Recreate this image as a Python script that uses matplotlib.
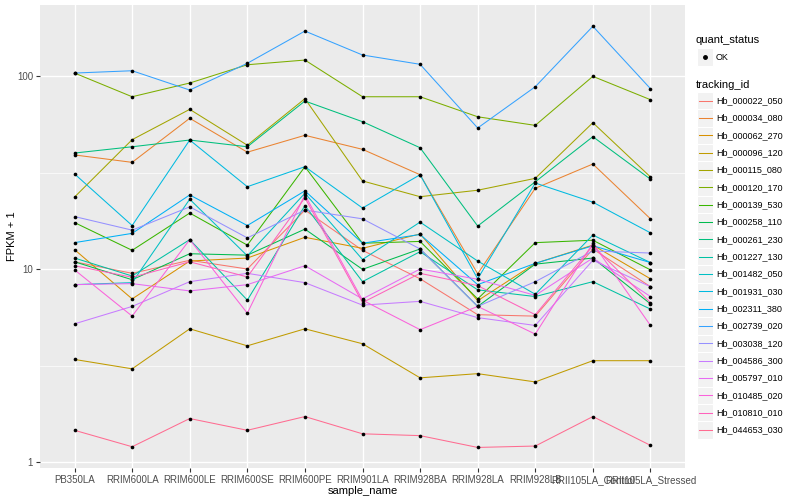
import numpy as np
import matplotlib.pyplot as plt
from matplotlib.lines import Line2D
from matplotlib.patches import Rectangle

plt.rcParams['font.family'] = ['Liberation Sans', 'DejaVu Sans']

samples = ['PB350LA', 'RRIM600LA', 'RRIM600LE', 'RRIM600SE', 'RRIM600PE',
           'RRIM901LA', 'RRIM928BA', 'RRIM928LA', 'RRIM928LB',
           'RRII105LA_Control', 'RRII105LA_Stressed']

tracking_ids = ['Hb_000022_050', 'Hb_000034_080', 'Hb_000062_270', 'Hb_000096_120',
                'Hb_000115_080', 'Hb_000120_170', 'Hb_000139_530', 'Hb_000258_110',
                'Hb_000261_230', 'Hb_001227_130', 'Hb_001482_050', 'Hb_001931_030',
                'Hb_002311_380', 'Hb_002739_020', 'Hb_003038_120', 'Hb_004586_300',
                'Hb_005797_010', 'Hb_010485_020', 'Hb_010810_010', 'Hb_044653_030']

# ggplot hue palette, 20 levels
colors = ['#F8766D', '#EA8331', '#D89000', '#C09B00', '#A3A500', '#7CAE00', '#39B600',
          '#00BB4E', '#00BF7D', '#00C1A3', '#00BFC4', '#00BAE0', '#00B0F6', '#35A2FF',
          '#9590FF', '#C77CFF', '#E76BF3', '#FA62DB', '#FF62BC', '#FF6C91']

# FPKM + 1, one list per tracking id (order = samples)
hb_000022_050 = [10.9, 9.5, 11.1, 10.0, 20.2, 12.5, 8.9, 5.8, 5.7, 12.7, 8.1]
hb_000034_080 = [39.0, 35.7, 60.4, 40.3, 49.3, 41.7, 30.8, 9.45, 26.2, 35.0, 18.2]
hb_000062_270 = [12.6, 7.0, 11.0, 11.4, 14.6, 12.8, 15.2, 6.85, 10.7, 13.3, 8.9]
hb_000096_120 = [3.4, 3.04, 4.9, 4.0, 4.9, 4.1, 2.73, 2.87, 2.6, 3.35, 3.35]
hb_000115_080 = [23.6, 46.8, 67.2, 43.8, 76.3, 28.6, 23.7, 25.6, 29.5, 57.3, 30.0]
hb_000120_170 = [103.6, 78.1, 92.0, 114.4, 121.0, 78.1, 78.1, 61.5, 55.5, 99.6, 75.4]
hb_000139_530 = [17.4, 12.5, 19.5, 13.3, 33.9, 13.6, 13.9, 7.0, 13.7, 14.1, 9.9]
hb_000258_110 = [10.9, 8.8, 12.0, 11.8, 16.1, 9.96, 12.7, 6.4, 10.6, 11.4, 6.6]
hb_000261_230 = [39.9, 43.0, 46.6, 43.0, 74.2, 58.0, 42.5, 16.7, 28.3, 48.5, 29.2]
hb_001227_130 = [11.4, 9.2, 14.2, 6.9, 21.3, 8.6, 12.3, 7.8, 7.2, 8.6, 6.2]
hb_001482_050 = [8.3, 8.5, 23.0, 11.7, 24.7, 11.2, 17.5, 11.0, 7.4, 15.0, 10.8]
hb_001931_030 = [31.1, 16.8, 46.6, 26.7, 33.9, 20.7, 30.8, 8.9, 27.9, 22.2, 15.4]
hb_002311_380 = [13.7, 15.3, 24.2, 16.8, 25.4, 13.6, 15.1, 8.3, 10.7, 13.2, 10.8]
hb_002739_020 = [103.6, 106.5, 84.6, 116.4, 171.0, 128.5, 115.0, 53.8, 88.0, 181.0, 86.0]
hb_003038_120 = [18.7, 15.9, 21.0, 14.5, 20.2, 18.2, 12.7, 6.4, 8.6, 12.4, 12.1]
hb_004586_300 = [5.2, 6.4, 8.6, 9.5, 8.5, 6.5, 6.8, 5.6, 5.1, 11.1, 8.1]
hb_005797_010 = [8.3, 8.4, 7.7, 8.3, 10.4, 7.0, 10.0, 8.85, 7.3, 11.4, 7.2]
hb_010485_020 = [9.9, 5.7, 14.2, 5.9, 24.2, 6.9, 4.85, 6.4, 4.6, 13.6, 5.1]
hb_010810_010 = [10.4, 9.06, 10.9, 9.1, 23.4, 6.7, 9.5, 8.2, 5.8, 13.2, 6.7]
hb_044653_030 = [1.46, 1.20, 1.68, 1.46, 1.72, 1.40, 1.37, 1.19, 1.21, 1.72, 1.22]

series = [hb_000022_050, hb_000034_080, hb_000062_270, hb_000096_120, hb_000115_080,
          hb_000120_170, hb_000139_530, hb_000258_110, hb_000261_230, hb_001227_130,
          hb_001482_050, hb_001931_030, hb_002311_380, hb_002739_020, hb_003038_120,
          hb_004586_300, hb_005797_010, hb_010485_020, hb_010810_010, hb_044653_030]

W, H = 800, 500
fig = plt.figure(figsize=(W / 100, H / 100), dpi=100)
ax = fig.add_axes([40 / W, 1 - 468 / H, 645 / W, 463 / H])
ax.set_facecolor('#EBEBEB')
for s in ax.spines.values():
    s.set_visible(False)

x = np.arange(len(samples))
for vals, c in zip(series, colors):
    ax.plot(x, vals, color=c, lw=0.75, zorder=2)
for vals in series:
    ax.scatter(x, vals, color='black', s=7, zorder=3, linewidths=0)

ax.set_yscale('log')
ax.set_ylim(10 ** -0.031, 10 ** 2.368)
ax.set_xlim(-0.6, len(samples) - 0.4)
ax.set_yticks([1, 10, 100])
ax.set_yticklabels(['1', '10', '100'])
ax.set_yticks([10 ** 0.5, 10 ** 1.5], minor=True)
ax.yaxis.set_minor_formatter(plt.NullFormatter())
ax.set_xticks(x)
ax.set_xticklabels(samples)
ax.grid(which='major', color='white', lw=1.0, zorder=0)
ax.grid(which='minor', axis='y', color='white', lw=0.5, zorder=0)
ax.set_axisbelow(True)
ax.tick_params(which='major', length=3, width=0.8, color='#333333',
               labelsize=7, labelcolor='#4D4D4D', pad=2)
ax.tick_params(which='minor', length=0)
ax.set_xlabel('sample_name', fontsize=8, labelpad=0.5)
ax.set_ylabel('FPKM + 1', fontsize=8, labelpad=0)


def fx(px):
    return px / W


def fy(py):
    return 1 - py / H


# legend: quant_status
fig.text(fx(696), fy(40), 'quant_status', fontsize=8, va='center', ha='left')
fig.patches.append(Rectangle((fx(697), fy(65.5)), 16 / W, 17 / H, transform=fig.transFigure,
                             facecolor='#F2F2F2', edgecolor='white', lw=0.8))
fig.lines.append(Line2D([fx(705)], [fy(57)], transform=fig.transFigure, marker='o',
                        markersize=2.5, color='black', lw=0))
fig.text(fx(716), fy(57), 'OK', fontsize=6.5, va='center', ha='left')

# legend: tracking_id
fig.text(fx(696), fy(85), 'tracking_id', fontsize=8, va='center', ha='left')
for i, (name, c) in enumerate(zip(tracking_ids, colors)):
    yc = 100.7 + i * 17.33
    fig.patches.append(Rectangle((fx(697), fy(yc + 8.6)), 16 / W, 17.3 / H,
                                 transform=fig.transFigure, facecolor='#F2F2F2',
                                 edgecolor='white', lw=0.8))
    fig.lines.append(Line2D([fx(698.5), fx(711.5)], [fy(yc), fy(yc)],
                            transform=fig.transFigure, color=c, lw=0.75))
    fig.text(fx(716), fy(yc), name, fontsize=6.5, va='center', ha='left')

fig.savefig('out.png', dpi=100)
